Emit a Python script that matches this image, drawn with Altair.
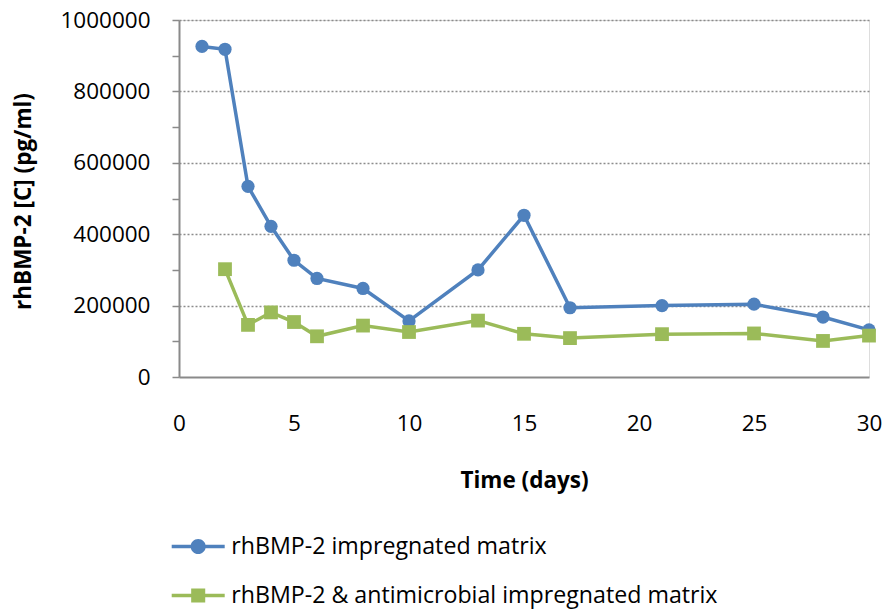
import altair as alt
import pandas as pd

days_a = [1, 2, 3, 4, 5, 6, 8, 10, 13, 15, 17, 21, 25, 28, 30]
vals_a = [926000, 918000, 534000, 422000, 327000, 276000, 248000, 157000,
          300000, 453000, 194000, 200000, 204000, 168000, 132000]
days_b = [2, 3, 4, 5, 6, 8, 10, 13, 15, 17, 21, 25, 28, 30]
vals_b = [302000, 146000, 181000, 154000, 114000, 144000, 126000, 158000,
          121000, 109000, 120000, 122000, 101000, 116000]
series_names = ["rhBMP-2 impregnated matrix",
                "rhBMP-2 & antimicrobial impregnated matrix"]
colors = ["#4F81BD", "#9BBB59"]
y_ticks = list(range(0, 1000001, 100000))
x_ticks = [0, 5, 10, 15, 20, 25, 30]

df = pd.concat([
    pd.DataFrame({"day": days_a, "value": vals_a, "series": series_names[0]}),
    pd.DataFrame({"day": days_b, "value": vals_b, "series": series_names[1]}),
])

FONT = "Open Sans"

x_enc = alt.X("day:Q", scale=alt.Scale(domain=[0, 30], nice=False),
              axis=alt.Axis(values=x_ticks, title="Time (days)", ticks=False,
                            grid=False, labelPadding=35, labelFontSize=22.5,
                            labelFont=FONT, labelColor="black",
                            domainColor="#8a8a8a", domainWidth=2,
                            titleFont=FONT, titleFontSize=22.5, titleFontWeight="bold",
                            titleColor="black", titleY=103, titleBaseline="middle",
                            labelFlush=False))
y_enc = alt.Y("value:Q", scale=alt.Scale(domain=[0, 1000000], nice=False),
              axis=alt.Axis(values=y_ticks, format="d",
                            labelExpr="datum.value % 200000 == 0 ? datum.label : ''",
                            title="rhBMP-2 [C] (pg/ml)",
                            tickSize=7, tickColor="#8a8a8a", tickWidth=1.5,
                            domainColor="#8a8a8a", domainWidth=2,
                            labelPadding=22, labelFontSize=22.5, labelFont=FONT,
                            labelColor="black",
                            grid=True, gridDash=[2, 2], gridColor="#8c8c8c", gridWidth=1.5,
                            gridOpacity={"condition": {"test": "datum.value % 200000 == 0 && datum.value > 0", "value": 1}, "value": 0},
                            titleFont=FONT, titleFontSize=22.5, titleFontWeight="bold",
                            titleColor="black", titleAngle=270, titleX=-156,
                            titleY=181, titleAlign="center", titleBaseline="middle"))

color_scale = alt.Scale(domain=series_names, range=colors)

circle_path = ("M-1,-0.066L1,-0.066L1,0.066L-1,0.066Z "
               "M0.285,0A0.285,0.285 0 1,1 -0.285,0A0.285,0.285 0 1,1 0.285,0Z")
square_path = ("M-1,-0.066L1,-0.066L1,0.066L-1,0.066Z "
               "M-0.265,-0.265L0.265,-0.265L0.265,0.265L-0.265,0.265Z")

base = alt.Chart(df)

layers = []
for name, shape, sz in [(series_names[0], "circle", 175), (series_names[1], "square", 190)]:
    sub = base.transform_filter(alt.datum.series == name)
    layers.append(sub.mark_line(strokeWidth=3.5).encode(
        x=x_enc, y=y_enc,
        color=alt.Color("series:N", scale=color_scale, legend=None)))
    layers.append(sub.mark_point(shape=shape, filled=True, size=sz, opacity=1).encode(
        x=x_enc, y=y_enc,
        color=alt.Color("series:N", scale=color_scale, legend=None)))

leg = alt.Legend(title=None, orient="none", legendX=-7.3, legendY=500,
                 direction="vertical", symbolSize=2809, symbolOpacity=1,
                 labelFontSize=23.2, labelFont=FONT, labelColor="black",
                 labelOffset=6.5, rowPadding=11, padding=0,
                 symbolStrokeWidth=0, labelLimit=0)

legend_layer = base.mark_point(filled=True, opacity=0).encode(
    x=x_enc, y=y_enc,
    color=alt.Color("series:N", scale=color_scale, legend=leg),
    shape=alt.Shape("series:N", scale=alt.Scale(domain=series_names,
                                                range=[circle_path, square_path]),
                    legend=leg),
)

chart = alt.layer(*layers, legend_layer).resolve_scale(
    color="independent", shape="independent"
).properties(
    width=690, height=357,
    autosize=alt.AutoSizeParams(type="none"),
    padding={"left": 179, "top": 20, "right": 19, "bottom": 233},
).configure_view(fill="#F2F2F2", stroke=None).configure(background="white")

chart.save("out.html", embed_options={"renderer": "svg", "actions": False})
